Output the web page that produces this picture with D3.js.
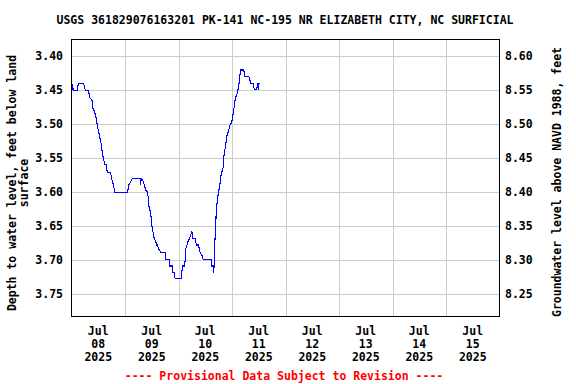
<!DOCTYPE html>
<html>
<head>
<meta charset="utf-8">
<script src="https://cdn.jsdelivr.net/npm/d3@7/dist/d3.min.js"></script>
<style>
  html, body { margin: 0; padding: 0; background: #fff; }
  svg { display: block; }
  text { font-family: "DejaVu Sans Mono", monospace; font-weight: bold; }
</style>
</head>
<body>
<svg id="chart" width="576" height="384"></svg>
<script>
// ---------------- data ----------------
const title = "USGS 361829076163201 PK-141 NC-195 NR ELIZABETH CITY, NC SURFICIAL";
const leftTitle = ["Depth to water level, feet below land", "surface"];
const rightTitle = "Groundwater level above NAVD 1988, feet";
const footer = "---- Provisional Data Subject to Revision ----";
const datumOffset = 12.00; // elevation = datumOffset - depth

const depthTicks = [3.40, 3.45, 3.50, 3.55, 3.60, 3.65, 3.70, 3.75];
const elevTicks = [8.60, 8.55, 8.50, 8.45, 8.40, 8.35, 8.30, 8.25];
const dayTicks = ["2025-07-08", "2025-07-09", "2025-07-10", "2025-07-11",
                  "2025-07-12", "2025-07-13", "2025-07-14", "2025-07-15"];

const times = [
  "2025-07-08 00:00","2025-07-08 00:15","2025-07-08 00:30","2025-07-08 00:45",
  "2025-07-08 02:45","2025-07-08 03:00","2025-07-08 05:30","2025-07-08 05:45",
  "2025-07-08 06:15","2025-07-08 07:45","2025-07-08 08:00","2025-07-08 09:15",
  "2025-07-08 09:45","2025-07-08 10:15","2025-07-08 11:00","2025-07-08 11:45",
  "2025-07-08 12:30","2025-07-08 13:00","2025-07-08 13:30","2025-07-08 13:45",
  "2025-07-08 14:15","2025-07-08 14:30","2025-07-08 15:00","2025-07-08 15:45",
  "2025-07-08 16:00","2025-07-08 17:30","2025-07-08 18:00","2025-07-08 18:45",
  "2025-07-08 19:30","2025-07-09 01:15","2025-07-09 01:30","2025-07-09 02:30",
  "2025-07-09 03:15","2025-07-09 06:45","2025-07-09 07:00","2025-07-09 07:15",
  "2025-07-09 07:30","2025-07-09 08:15","2025-07-09 08:45","2025-07-09 09:15",
  "2025-07-09 10:00","2025-07-09 10:30","2025-07-09 10:45","2025-07-09 11:30",
  "2025-07-09 12:00","2025-07-09 12:15","2025-07-09 12:45","2025-07-09 13:00",
  "2025-07-09 13:45","2025-07-09 14:15","2025-07-09 14:30","2025-07-09 15:00",
  "2025-07-09 16:00","2025-07-09 18:00","2025-07-09 18:15","2025-07-09 19:45",
  "2025-07-09 20:00","2025-07-09 21:15","2025-07-09 21:30","2025-07-09 22:00",
  "2025-07-09 22:30","2025-07-10 01:15","2025-07-10 01:45","2025-07-10 02:45",
  "2025-07-10 03:00","2025-07-10 03:15","2025-07-10 03:45","2025-07-10 04:15",
  "2025-07-10 05:00","2025-07-10 05:30","2025-07-10 06:00","2025-07-10 06:15",
  "2025-07-10 07:30","2025-07-10 08:00","2025-07-10 09:00","2025-07-10 09:30",
  "2025-07-10 10:30","2025-07-10 11:00","2025-07-10 14:45","2025-07-10 15:00",
  "2025-07-10 15:30","2025-07-10 15:45","2025-07-10 16:00","2025-07-10 16:15",
  "2025-07-10 16:45","2025-07-10 17:00","2025-07-10 17:45","2025-07-10 18:30",
  "2025-07-10 19:00","2025-07-10 19:30","2025-07-10 20:00","2025-07-10 20:15",
  "2025-07-10 20:45","2025-07-10 21:15","2025-07-10 21:30","2025-07-10 22:00",
  "2025-07-10 22:30","2025-07-10 23:15","2025-07-10 23:45","2025-07-11 00:15",
  "2025-07-11 00:45","2025-07-11 01:15","2025-07-11 01:30","2025-07-11 02:00",
  "2025-07-11 02:30","2025-07-11 03:00","2025-07-11 03:30","2025-07-11 03:45",
  "2025-07-11 05:15","2025-07-11 05:45","2025-07-11 07:30","2025-07-11 08:00",
  "2025-07-11 08:30","2025-07-11 09:30","2025-07-11 10:00","2025-07-11 11:00",
  "2025-07-11 11:30","2025-07-11 11:45","2025-07-11 12:00","2025-07-11 12:45"
];
const depths = [
  3.44,3.45,3.44,3.45,
  3.45,3.44,3.44,3.444,
  3.45,3.45,3.46,3.465,
  3.48,3.48,3.49,3.505,
  3.516,3.524,3.531,3.541,
  3.549,3.553,3.56,3.56,
  3.571,3.571,3.58,3.589,
  3.60,3.60,3.59,3.585,
  3.58,3.58,3.59,3.58,
  3.58,3.585,3.59,3.597,
  3.60,3.609,3.621,3.631,
  3.646,3.655,3.661,3.667,
  3.673,3.678,3.678,3.683,
  3.689,3.689,3.699,3.699,
  3.709,3.709,3.718,3.718,
  3.728,3.728,3.709,3.709,
  3.699,3.684,3.679,3.673,
  3.668,3.663,3.658,3.668,
  3.668,3.678,3.678,3.688,
  3.693,3.699,3.699,3.709,
  3.709,3.719,3.709,3.678,
  3.644,3.624,3.604,3.59,
  3.577,3.57,3.564,3.549,
  3.539,3.529,3.52,3.514,
  3.509,3.499,3.499,3.49,
  3.479,3.469,3.459,3.459,
  3.452,3.444,3.43,3.42,
  3.42,3.429,3.429,3.435,
  3.44,3.44,3.449,3.449,
  3.44,3.449,3.44,3.44
];

// ---------------- chart ----------------
const W = 576, H = 384;
const plot = { left: 71.5, right: 499.5, top: 39.5, bottom: 316.5 };
const parseT = d3.timeParse("%Y-%m-%d %H:%M");
const parseD = d3.timeParse("%Y-%m-%d");
const data = times.map((t, i) => ({ t: parseT(t), v: depths[i] }));

const x = d3.scaleTime()
  .domain([parseD("2025-07-08"), parseD("2025-07-16")])
  .range([plot.left, plot.right]);
const y = d3.scaleLinear().domain([3.375, 3.7835]).range([plot.top, plot.bottom]);
const y2 = d3.scaleLinear().domain([datumOffset - 3.375, datumOffset - 3.7835]).range([plot.top, plot.bottom]);

const svg = d3.select("#chart");
svg.append("rect").attr("width", W).attr("height", H).attr("fill", "#fff");

// gridlines
const grid = svg.append("g").attr("stroke", "#cccccc").attr("stroke-width", 1).attr("shape-rendering", "crispEdges");
grid.selectAll("line.h").data(depthTicks).join("line")
  .attr("x1", plot.left).attr("x2", plot.right)
  .attr("y1", d => Math.round(y(d)) + 0.5).attr("y2", d => Math.round(y(d)) + 0.5);
grid.selectAll("line.v").data(dayTicks.slice(1)).join("line")
  .attr("y1", plot.top).attr("y2", plot.bottom)
  .attr("x1", d => Math.round(x(parseD(d))) + 0.5).attr("x2", d => Math.round(x(parseD(d))) + 0.5);

// data line
const line = d3.line().x(d => x(d.t)).y(d => y(d.v));
svg.append("path").datum(data)
  .attr("d", line).attr("fill", "none")
  .attr("stroke", "#0000ff").attr("stroke-width", 1.1)
  .attr("shape-rendering", "crispEdges");

// frame
svg.append("rect")
  .attr("x", plot.left).attr("y", plot.top)
  .attr("width", plot.right - plot.left).attr("height", plot.bottom - plot.top)
  .attr("fill", "none").attr("stroke", "#000").attr("stroke-width", 1)
  .attr("shape-rendering", "crispEdges");

const fs = 11.5;

// left axis labels
svg.append("g").selectAll("text").data(depthTicks).join("text")
  .attr("x", 63).attr("y", d => y(d)).attr("dy", "0.35em")
  .attr("text-anchor", "end").attr("font-size", fs)
  .text(d => d.toFixed(2));

// right axis labels
svg.append("g").selectAll("text").data(elevTicks).join("text")
  .attr("x", 505).attr("y", d => y2(d)).attr("dy", "0.35em")
  .attr("text-anchor", "start").attr("font-size", fs)
  .text(d => d.toFixed(2));

// x axis labels
const fmtM = d3.timeFormat("%b"), fmtD = d3.timeFormat("%d"), fmtY = d3.timeFormat("%Y");
const noon = d => x(d3.timeHour.offset(parseD(d), 12));
const xl = svg.append("g").selectAll("text").data(dayTicks).join("text")
  .attr("text-anchor", "middle").attr("font-size", fs)
  .attr("x", noon).attr("y", 335);
xl.append("tspan").text(d => fmtM(parseD(d)));
xl.append("tspan").attr("x", noon).attr("dy", 13).text(d => fmtD(parseD(d)));
xl.append("tspan").attr("x", noon).attr("dy", 13).text(d => fmtY(parseD(d)));

// title
svg.append("text").attr("x", 285).attr("y", 24).attr("text-anchor", "middle")
  .attr("font-size", fs).text(title);

// left axis title
const lt = svg.append("text").attr("text-anchor", "middle").attr("font-size", fs)
  .attr("transform", "translate(16,183) rotate(-90)");
lt.append("tspan").attr("x", 0).attr("y", 0).text(leftTitle[0]);
lt.append("tspan").attr("x", 0).attr("dy", 11.5).text(leftTitle[1]);

// right axis title
svg.append("text").attr("text-anchor", "middle").attr("font-size", fs)
  .attr("transform", "translate(561,182) rotate(-90)").text(rightTitle);

// footer
svg.append("text").attr("x", 284).attr("y", 380).attr("text-anchor", "middle")
  .attr("font-size", fs).attr("fill", "#ff0000").text(footer);
</script>
</body>
</html>
